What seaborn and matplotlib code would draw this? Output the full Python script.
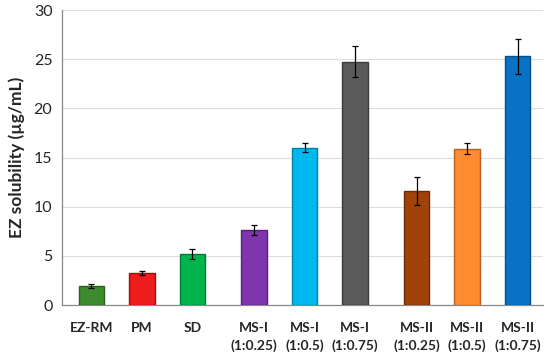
import matplotlib
matplotlib.use("Agg")
import matplotlib.pyplot as plt
import seaborn as sns
import pandas as pd
import numpy as np

labels = ["EZ-RM", "PM", "SD", "MS-I\n(1:0.25)", "MS-I\n(1:0.5)", "MS-I\n(1:0.75)",
          "MS-II\n(1:0.25)", "MS-II\n(1:0.5)", "MS-II\n(1:0.75)"]
groups = [0, 0, 0, 1, 1, 1, 2, 2, 2]
values = [1.95, 3.25, 5.2, 7.6, 16.0, 24.75, 11.6, 15.9, 25.3]
errors = [0.2, 0.2, 0.5, 0.5, 0.45, 1.6, 1.45, 0.55, 1.8]
colors = ["#3d8b2f", "#ee1c1c", "#00b44e", "#7e35ad", "#00b8f0", "#5a5a5a",
          "#a1420a", "#ff8c33", "#0a72c4"]
edges = ["#2a5f20", "#9a1010", "#007a35", "#55237a", "#0080a8", "#3a3a3a",
         "#6a2a06", "#b85f1f", "#064f88"]

sns.set_style("white")
plt.rcParams["font.family"] = ["Lato", "DejaVu Sans"]

gap = 0.22
pos = [i + gap * g for i, g in enumerate(groups)]
df = pd.DataFrame({"pos": pos, "val": values, "lab": labels})

fig, ax = plt.subplots(figsize=(5.5, 3.61), dpi=100)
fig.subplots_adjust(left=0.113, right=0.987, bottom=0.155, top=0.972)

sns.barplot(data=df, x="pos", y="val", hue="lab", hue_order=labels, palette=colors,
            native_scale=True, dodge=False, legend=False, width=0.5, ax=ax,
            errorbar=None, saturation=1, zorder=3)

for p, ec, err in zip(ax.patches, edges, errors):
    p.set_edgecolor(ec)
    p.set_linewidth(1.0)
    cx = p.get_x() + p.get_width() / 2
    ax.errorbar(cx, p.get_height(), yerr=err, color="black", lw=0.9,
                capsize=2.5, capthick=0.9, zorder=4)

ax.set_xlim(pos[0] - 0.58, pos[-1] + 0.5)
ax.set_ylim(0, 30)
ax.set_yticks(np.arange(0, 31, 5))
ax.set_xticks(pos)
ax.set_xticklabels(labels, fontsize=10, fontweight="bold", linespacing=1.55)
ax.tick_params(axis="x", length=0, pad=12)
ax.tick_params(axis="y", length=4, width=0.8, color="#888888", labelsize=11.5, pad=3)
ax.set_xlabel("")
ax.set_ylabel("EZ solubility (µg/mL)", fontsize=12.5, fontweight="bold", labelpad=6)
ax.yaxis.grid(True, color="#dddddd", lw=0.8, zorder=0)
ax.set_axisbelow(True)
for s in ["top", "right"]:
    ax.spines[s].set_visible(False)
for s in ["left", "bottom"]:
    ax.spines[s].set_color("#888888")
    ax.spines[s].set_linewidth(0.9)

fig.savefig("out.png", dpi=100)
